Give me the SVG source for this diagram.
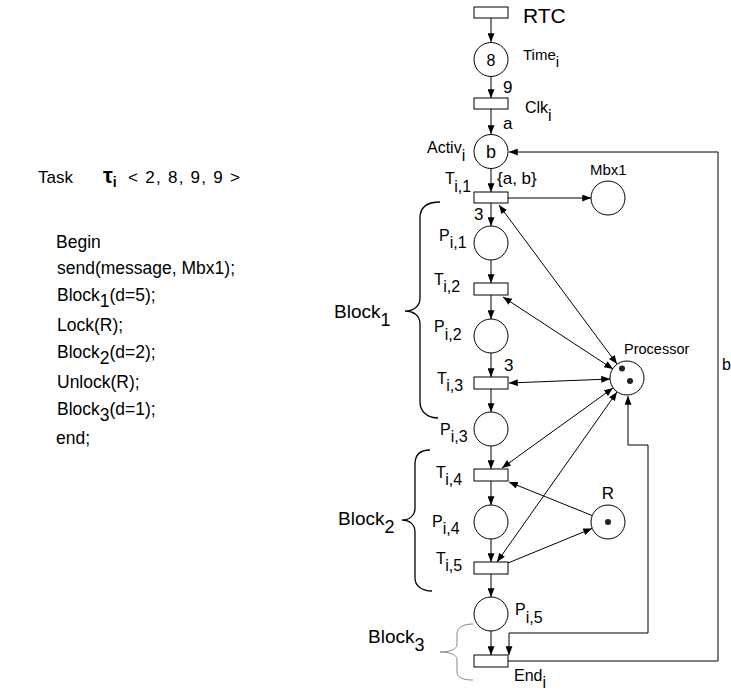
<svg xmlns="http://www.w3.org/2000/svg" width="731" height="690" viewBox="0 0 731 690">
<style>
text{font-family:"Liberation Sans",Arial,sans-serif;fill:#000}
.lb{font-size:15px}
.code{font-size:17.5px}
.blk{font-size:19px}
.pl{fill:#fff;stroke:#000;stroke-width:1}
.tr{fill:#fff;stroke:#000;stroke-width:1}
.arc{fill:none;stroke:#000;stroke-width:1}
.brace{fill:none;stroke:#000;stroke-width:1.3}
.tok{fill:#222}
</style>
<defs>
<marker id="ah" viewBox="0 0 10 8" refX="10" refY="4" markerWidth="9" markerHeight="7" orient="auto-start-reverse" markerUnits="userSpaceOnUse"><path d="M0,0 L10,4 L0,8 z" fill="#000"/></marker>
</defs>
<rect width="731" height="690" fill="#fff"/>

<g id="code">
<text x="38" y="183" font-size="17">Task</text>
<text x="103" y="183" font-family="Liberation Serif,serif" font-weight="bold" font-size="22">τ<tspan font-size="14" dy="4">i</tspan></text>
<text x="128" y="183" font-size="17" textLength="112" lengthAdjust="spacing">&lt; 2, 8, 9, 9 &gt;</text>
<text class="code" x="56" y="248">Begin</text>
<text class="code" x="57" y="274">send(message, Mbx1);</text>
<text class="code" x="57" y="301">Block<tspan dy="6">1</tspan><tspan dy="-6">(d=5);</tspan></text>
<text class="code" x="57" y="331">Lock(R);</text>
<text class="code" x="57" y="358">Block<tspan dy="6">2</tspan><tspan dy="-6">(d=2);</tspan></text>
<text class="code" x="57" y="388">Unlock(R);</text>
<text class="code" x="57" y="415">Block<tspan dy="6">3</tspan><tspan dy="-6">(d=1);</tspan></text>
<text class="code" x="56" y="444">end;</text>
</g>

<g id="connectors">
<line class="arc" x1="491" y1="18" x2="491" y2="42" marker-end="url(#ah)"/>
<line class="arc" x1="491" y1="77" x2="491" y2="98" marker-end="url(#ah)"/>
<line class="arc" x1="491" y1="109" x2="491" y2="134" marker-end="url(#ah)"/>
<line class="arc" x1="491" y1="168" x2="491" y2="192" marker-end="url(#ah)"/>
<line class="arc" x1="491" y1="203" x2="491" y2="226" marker-end="url(#ah)"/>
<line class="arc" x1="491" y1="260" x2="491" y2="283" marker-end="url(#ah)"/>
<line class="arc" x1="491" y1="295" x2="491" y2="319" marker-end="url(#ah)"/>
<line class="arc" x1="491" y1="353" x2="491" y2="377" marker-end="url(#ah)"/>
<line class="arc" x1="491" y1="389" x2="491" y2="412" marker-end="url(#ah)"/>
<line class="arc" x1="491" y1="446" x2="491" y2="469" marker-end="url(#ah)"/>
<line class="arc" x1="491" y1="481" x2="491" y2="505" marker-end="url(#ah)"/>
<line class="arc" x1="491" y1="539" x2="491" y2="562" marker-end="url(#ah)"/>
<line class="arc" x1="491" y1="574" x2="491" y2="597" marker-end="url(#ah)"/>
<line class="arc" x1="491" y1="631" x2="491" y2="655" marker-end="url(#ah)"/>
<line class="arc" x1="508" y1="198" x2="591" y2="198" marker-end="url(#ah)"/>
<path class="arc" d="M508,661 H718 V152 H509" marker-end="url(#ah)"/>
<path class="arc" d="M628,396 V445 H648 V633 H509 V655" marker-start="url(#ah)" marker-end="url(#ah)"/>
<line class="arc" x1="499" y1="205" x2="617" y2="364" marker-start="url(#ah)" marker-end="url(#ah)"/>
<line class="arc" x1="503" y1="297" x2="613" y2="369" marker-start="url(#ah)" marker-end="url(#ah)"/>
<line class="arc" x1="509" y1="383" x2="610" y2="379" marker-start="url(#ah)" marker-end="url(#ah)"/>
<line class="arc" x1="502" y1="468" x2="613" y2="388" marker-start="url(#ah)" marker-end="url(#ah)"/>
<line class="arc" x1="497" y1="562" x2="617" y2="392" marker-start="url(#ah)" marker-end="url(#ah)"/>
<line class="arc" x1="592" y1="515.5" x2="509" y2="482" marker-end="url(#ah)"/>
<line class="arc" x1="508" y1="563" x2="592" y2="528.5" marker-end="url(#ah)"/>
<text x="503" y="93" font-size="17">9</text>
<text x="503" y="129" font-size="17">a</text>
<text x="497" y="184" font-size="17">{a, b}</text>
<text x="474" y="220" font-size="17">3</text>
<text x="504" y="371" font-size="17">3</text>
<text x="722" y="370" font-size="16">b</text>
</g>

<g id="RTC"><rect class="tr" x="474" y="7" width="34" height="11"/><text x="523" y="23" font-size="21">RTC</text></g>
<g id="Time"><circle class="pl" cx="491" cy="59.5" r="17"/><text x="491" y="65.5" font-size="16" text-anchor="middle">8</text><text class="lb" x="523" y="60">Time<tspan dy="7">i</tspan></text></g>
<g id="Clk"><rect class="tr" x="474" y="98" width="34" height="11"/><text x="525" y="113" font-size="16">Clk<tspan dy="8">i</tspan></text></g>
<g id="Activ"><circle class="pl" cx="491" cy="151.5" r="17"/><text x="491" y="158" font-size="18" text-anchor="middle">b</text><text x="427" y="153" font-size="16">Activ<tspan dy="8">i</tspan></text></g>
<g id="T1"><rect class="tr" x="474" y="192" width="34" height="11"/><text x="445" y="184" font-size="16">T<tspan dy="8">i,1</tspan></text></g>
<g id="Mbx1"><circle class="pl" cx="608" cy="198" r="17"/><text class="lb" x="590" y="175">Mbx1</text></g>
<g id="P1"><circle class="pl" cx="491" cy="243" r="17"/><text x="439" y="241" font-size="16">P<tspan dy="7">i,1</tspan></text></g>
<g id="T2"><rect class="tr" x="474" y="283" width="34" height="12"/><text x="434" y="285" font-size="16">T<tspan dy="7">i,2</tspan></text></g>
<g id="P2"><circle class="pl" cx="491" cy="336" r="17"/><text x="434" y="332" font-size="16">P<tspan dy="8">i,2</tspan></text></g>
<g id="T3"><rect class="tr" x="474" y="377" width="34" height="12"/><text x="437" y="384" font-size="16">T<tspan dy="7">i,3</tspan></text></g>
<g id="P3"><circle class="pl" cx="491" cy="429" r="17"/><text x="440" y="435" font-size="16">P<tspan dy="7">i,3</tspan></text></g>
<g id="T4"><rect class="tr" x="474" y="469" width="34" height="12"/><text x="436" y="478" font-size="16">T<tspan dy="7">i,4</tspan></text></g>
<g id="P4"><circle class="pl" cx="491" cy="522" r="17"/><text x="432" y="527" font-size="16">P<tspan dy="7">i,4</tspan></text></g>
<g id="T5"><rect class="tr" x="474" y="562" width="34" height="12"/><text x="436" y="564" font-size="16">T<tspan dy="7">i,5</tspan></text></g>
<g id="P5"><circle class="pl" cx="491" cy="614" r="17"/><text x="515" y="615" font-size="16">P<tspan dy="8">i,5</tspan></text></g>
<g id="End"><rect class="tr" x="474" y="655" width="34" height="12"/><text x="514" y="681" font-size="16">End<tspan dy="7">i</tspan></text></g>
<g id="Processor"><circle class="pl" cx="627" cy="378" r="17"/><circle class="tok" cx="622" cy="368.5" r="3"/><circle class="tok" cx="630" cy="381" r="3"/><text x="624" y="354" font-size="14.5">Processor</text></g>
<g id="R"><circle class="pl" cx="608" cy="522" r="17"/><circle class="tok" cx="608" cy="522" r="3"/><text x="608" y="499" font-size="17" text-anchor="middle">R</text></g>

<g id="Block1"><path class="brace" d="M440,202 C428,202 420,206 420,218 L420,298 C420,306 414,311 405,311 C414,311 420,316 420,324 L420,402 C420,412 428,418 438,418"/><text class="blk" x="334" y="318">Block<tspan dy="8" font-size="18">1</tspan></text></g>
<g id="Block2"><path class="brace" d="M430,450 C420,450 415,455 415,464 L415,508 C415,515 410,520 402,520 C410,520 415,525 415,532 L415,578 C415,586 422,591 432,591"/><text class="blk" x="338" y="525">Block<tspan dy="8" font-size="18">2</tspan></text></g>
<g id="Block3"><path d="M473,624 C464,624 457,627 457,634 L457,645 C457,649 450,652 440,652 C450,652 457,655 457,659 L457,672 C457,678 464,680 473,680" fill="none" stroke="#888" stroke-width="1"/><text class="blk" x="368" y="643">Block<tspan dy="8" font-size="18">3</tspan></text></g>
</svg>
